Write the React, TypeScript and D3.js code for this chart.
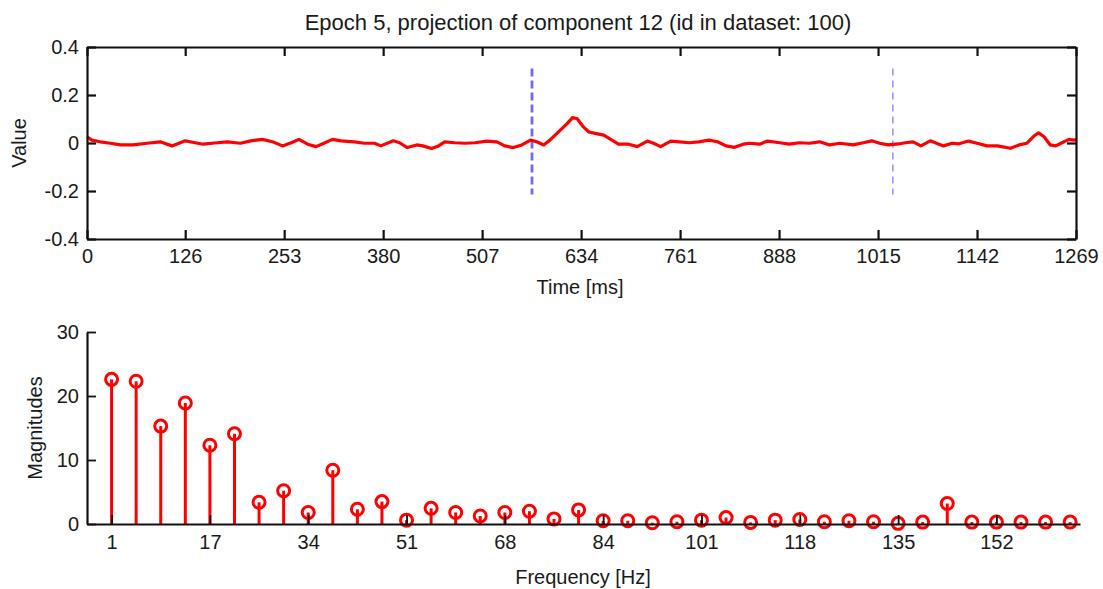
import * as d3 from 'd3';
import React, { useRef, useEffect } from 'react';

// Size of the whole figure
const width = 1103;
const height = 589;
const font = '"Liberation Sans", Arial, Helvetica, sans-serif';

// Time course of the component (ms, value)
const timeMs = [0, 6, 17, 30, 43, 59, 77, 94, 109, 126, 139, 149, 167, 180, 197, 210, 225, 238, 251, 262,
  272, 283, 294, 304, 315, 326, 330, 343, 356, 369, 377, 393, 401, 411, 423, 431, 442, 451, 459, 472,
  485, 498, 513, 526, 536, 547, 558, 569, 577, 586, 594, 605, 616, 623, 629, 637, 644, 652, 663, 672,
  682, 695, 706, 719, 727, 736, 749, 760, 773, 785, 798, 809, 820, 831, 842, 850, 863, 873, 889, 901,
  914, 927, 940, 953, 966, 983, 996, 1007, 1017, 1028, 1041, 1050, 1060, 1070, 1082, 1090, 1099, 1110, 1118, 1131,
  1142, 1155, 1168, 1185, 1196, 1206, 1215, 1221, 1228, 1236, 1243, 1251, 1260, 1266, 1269];
const values = [0.026, 0.012, 0.005, -0.001, -0.008, -0.008, -0.001, 0.005, -0.012, 0.009, 0.001, -0.005, 0.001, 0.005, -0.001, 0.009, 0.015, 0.005, -0.012, 0.001,
  0.015, -0.005, -0.015, -0.001, 0.015, 0.009, 0.008, 0.005, -0.001, -0.001, -0.012, 0.009, 0.001, -0.019, -0.008, -0.012, -0.023, -0.012, 0.005, 0.001,
  -0.001, 0.001, 0.008, 0.005, -0.012, -0.019, -0.008, 0.012, 0.005, -0.008, 0.012, 0.046, 0.081, 0.106, 0.101, 0.067, 0.046, 0.040, 0.033, 0.015,
  -0.005, -0.005, -0.015, 0.008, -0.001, -0.015, 0.008, 0.005, 0.001, 0.005, 0.012, 0.005, -0.012, -0.018, -0.005, -0.001, -0.005, 0.008, 0.001, -0.005,
  0.001, -0.001, 0.005, -0.008, -0.001, -0.008, 0.001, 0.009, -0.001, -0.008, -0.004, 0.001, 0.005, -0.012, 0.009, -0.001, -0.012, -0.001, -0.004, 0.008,
  -0.001, -0.012, -0.012, -0.022, -0.008, -0.001, 0.029, 0.042, 0.026, -0.008, -0.012, 0.001, 0.015, 0.012, 0.014];
const timeTicks = [0, 126, 253, 380, 507, 634, 761, 888, 1015, 1142, 1269];
const valueTicks = [-0.4, -0.2, 0, 0.2, 0.4];
const valueTickLabels = ['-0.4', '-0.2', '0', '0.2', '0.4'];
// dashed vertical markers (ms)
const markerTimes = [571, 1034];

// Spectrum: one magnitude per stem
const magnitudes = [22.6, 22.3, 15.3, 18.9, 12.3, 14.1, 3.4, 5.2, 1.8, 8.4,
  2.3, 3.5, 0.6, 2.45, 1.8, 1.25, 1.8, 2.0, 0.8, 2.2,
  0.5, 0.5, 0.2, 0.35, 0.6, 1.0, 0.25, 0.6, 0.7, 0.35,
  0.5, 0.35, 0.1, 0.3, 3.2, 0.3, 0.3, 0.3, 0.3, 0.3];
const freqTickStems = [1, 5, 9, 13, 17, 21, 25, 29, 33, 37];
const freqTickLabels = ['1', '17', '34', '51', '68', '84', '101', '118', '135', '152'];
const magTicks = [0, 10, 20, 30];

export default function App() {
  const svgRef = useRef(null);

  function drawChart() {
    const svg = d3.select(svgRef.current);
    svg.selectAll('*').remove();
    svg.append('rect').attr('width', width).attr('height', height).attr('fill', 'white');

    // ---------- top panel: time course ----------
    const x = d3.scaleLinear().domain([0, 1269]).range([87, 1076]);
    const y = d3.scaleLinear().domain([-0.4, 0.4]).range([239, 47]);

    const top = svg.append('g');

    // markers
    markerTimes.forEach((t, i) => {
      top.append('line')
        .attr('x1', x(t)).attr('x2', x(t))
        .attr('y1', y(0.31)).attr('y2', y(-0.215))
        .attr('stroke', i === 0 ? '#6b6bff' : '#8080ff')
        .attr('stroke-width', i === 0 ? 2.8 : 1.3)
        .attr('stroke-dasharray', i === 0 ? '8,4' : '7,5');
    });

    const line = d3.line().x(d => x(d[0])).y(d => y(d[1]));
    top.append('path')
      .datum(timeMs.map((t, i) => [t, values[i]]))
      .attr('d', line)
      .attr('fill', 'none')
      .attr('stroke', '#ff0000')
      .attr('stroke-width', 3.2)
      .attr('stroke-linejoin', 'round');

    const axB = top.append('g').attr('transform', `translate(0,${y(-0.4)})`)
      .call(d3.axisBottom(x).tickValues(timeTicks).tickFormat(d3.format('d')).tickSize(-9).tickSizeOuter(0).tickPadding(10));
    const axT = top.append('g').attr('transform', `translate(0,${y(0.4)})`)
      .call(d3.axisTop(x).tickValues(timeTicks).tickFormat(() => '').tickSize(-9).tickSizeOuter(0));
    const axL = top.append('g').attr('transform', `translate(${x(0)},0)`)
      .call(d3.axisLeft(y).tickValues(valueTicks).tickFormat((d, i) => valueTickLabels[i]).tickSize(-9).tickSizeOuter(0).tickPadding(8));
    const axR = top.append('g').attr('transform', `translate(${x(1269)},0)`)
      .call(d3.axisRight(y).tickValues(valueTicks).tickFormat(() => '').tickSize(-9).tickSizeOuter(0));
    [axB, axT, axL, axR].forEach(a => {
      a.select('.domain').attr('stroke', '#111').attr('stroke-width', 2.2);
      a.selectAll('.tick line').attr('stroke', '#111').attr('stroke-width', 2.2);
      a.selectAll('.tick text').attr('fill', '#1a1a1a').style('font-family', font).style('font-size', '20px');
    });

    svg.append('text').attr('x', 578).attr('y', 30).attr('text-anchor', 'middle')
      .attr('fill', '#1a1a1a').style('font-family', font).style('font-size', '22px')
      .text('Epoch 5, projection of component 12 (id in dataset: 100)');
    svg.append('text').attr('x', 580).attr('y', 294).attr('text-anchor', 'middle')
      .attr('fill', '#1a1a1a').style('font-family', font).style('font-size', '20px')
      .text('Time [ms]');
    svg.append('text').attr('transform', 'translate(26,143) rotate(-90)').attr('text-anchor', 'middle')
      .attr('fill', '#1a1a1a').style('font-family', font).style('font-size', '20px')
      .text('Value');

    // ---------- bottom panel: spectrum ----------
    const fx = d3.scaleLinear().domain([0, 40.4]).range([87, 1080]);
    const fy = d3.scaleLinear().domain([0, 30]).range([524, 332]);
    const bot = svg.append('g');

    const stems = bot.selectAll('.stem').data(magnitudes).enter().append('g').attr('class', 'stem');
    stems.append('line')
      .attr('x1', (d, i) => fx(i + 1)).attr('x2', (d, i) => fx(i + 1))
      .attr('y1', fy(0)).attr('y2', d => fy(d))
      .attr('stroke', '#ff0000').attr('stroke-width', 3);

    const bx = bot.append('g').attr('transform', `translate(0,${fy(0)})`)
      .call(d3.axisBottom(fx).tickValues(freqTickStems).tickFormat((d, i) => freqTickLabels[i]).tickSize(-9).tickSizeOuter(0).tickPadding(11));
    const by = bot.append('g').attr('transform', `translate(${fx(0)},0)`)
      .call(d3.axisLeft(fy).tickValues(magTicks).tickFormat(d3.format('d')).tickSize(-9).tickSizeOuter(0).tickPadding(8));
    [bx, by].forEach(a => {
      a.select('.domain').attr('stroke', '#111').attr('stroke-width', 2.2);
      a.selectAll('.tick line').attr('stroke', '#111').attr('stroke-width', 1.8);
      a.selectAll('.tick text').attr('fill', '#1a1a1a').style('font-family', font).style('font-size', '20px');
    });

    stems.append('circle')
      .attr('cx', (d, i) => fx(i + 1)).attr('cy', d => fy(d))
      .attr('r', 6)
      .attr('fill', 'none').attr('stroke', '#ff0000').attr('stroke-width', 3);

    svg.append('text').attr('x', 583).attr('y', 584).attr('text-anchor', 'middle')
      .attr('fill', '#1a1a1a').style('font-family', font).style('font-size', '20px')
      .text('Frequency [Hz]');
    svg.append('text').attr('transform', 'translate(42,428) rotate(-90)').attr('text-anchor', 'middle')
      .attr('fill', '#1a1a1a').style('font-family', font).style('font-size', '20px')
      .text('Magnitudes');
  }

  useEffect(() => {
    drawChart();
  });

  return (
    <svg ref={svgRef} width={width} height={height} style={{ position: 'absolute', left: 0, top: 0 }}></svg>
  );
}
